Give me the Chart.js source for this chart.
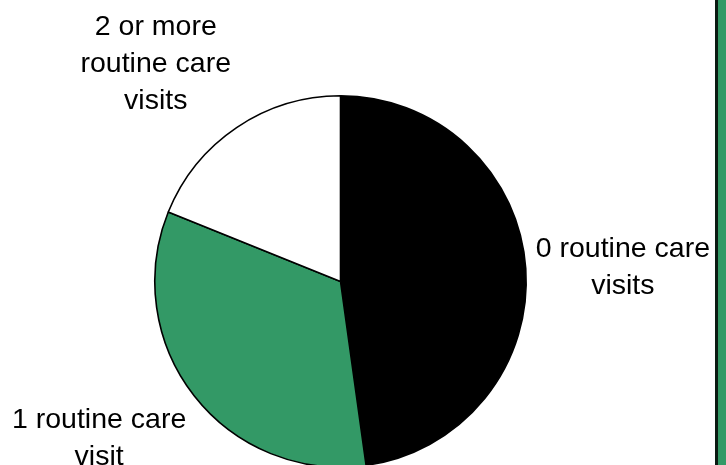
<!DOCTYPE html>
<html>
<head>
<meta charset="utf-8">
<script src="https://cdn.jsdelivr.net/npm/chart.js@4"></script>
<style>
  html, body { margin: 0; padding: 0; background: #fff; overflow: hidden; }
  #wrap { position: relative; width: 726px; height: 469px; }
  /* frame strip on the right edge */
  #edgeLine { position: absolute; left: 715px; top: 0; width: 3px; height: 465px; background: #0b1a12; }
  #edgeFill { position: absolute; left: 718px; top: 0; width: 8px; height: 465px; background: #339966; }
</style>
</head>
<body>
<div id="wrap">
  <canvas id="c"></canvas>
  <div id="edgeLine"></div>
  <div id="edgeFill"></div>
</div>
<script>
// shares of children by number of routine care visits (%)
const categories = [
  ['0 routine care', 'visits'],
  ['1 routine care', 'visit'],
  ['2 or more', 'routine care', 'visits'],
];
const shares = [47.8, 33.3, 18.9];
const sliceColors = ['#000000', '#339966', '#ffffff'];

const FONT = '"Liberation Sans", Arial, sans-serif';

/* outside labels, anchored at the slice's mid angle like Excel does */
const outsideLabels = {
  id: 'outsideLabels',
  afterDatasetsDraw(chart) {
    const ctx = chart.ctx;
    const meta = chart.getDatasetMeta(0);
    const lineH = 37;
    ctx.save();
    ctx.font = '28.5px ' + FONT;
    ctx.fillStyle = '#000';
    ctx.textAlign = 'center';
    ctx.textBaseline = 'middle';
    meta.data.forEach((arc, i) => {
      const p = arc.getProps(['x', 'y', 'startAngle', 'endAngle', 'outerRadius'], true);
      const mid = (p.startAngle + p.endAngle) / 2;
      const dx = Math.cos(mid), dy = Math.sin(mid);
      const d = p.outerRadius + 10;
      const ax = p.x + dx * d, ay = p.y + dy * d;
      const lines = categories[i];
      const w = Math.max(...lines.map(t => ctx.measureText(t).width));
      const h = lines.length * lineH;
      let left = ax - w / 2, top = ay - h / 2;
      if (dx > 0.3) left = ax;
      else if (dx < -0.3) left = ax - w;
      if (dy > 0.3) top = ay;
      else if (dy < -0.3) top = ay - h;
      lines.forEach((t, k) => {
        ctx.fillText(t, left + w / 2, top + lineH * (k + 0.5));
      });
    });
    ctx.restore();
  }
};

new Chart(document.getElementById('c'), {
  type: 'pie',
  data: {
    labels: categories.map(l => l.join(' ')),
    datasets: [{
      data: shares,
      backgroundColor: sliceColors,
      borderColor: '#000',
      borderWidth: 1.6,
    }],
  },
  options: {
    responsive: true,
    maintainAspectRatio: false,
    animation: false,
    layout: { padding: { left: 154, right: 199, top: 95, bottom: 1 } },
    plugins: {
      legend: { display: false },
      tooltip: { enabled: false },
    },
  },
  plugins: [outsideLabels],
});
</script>
</body>
</html>
